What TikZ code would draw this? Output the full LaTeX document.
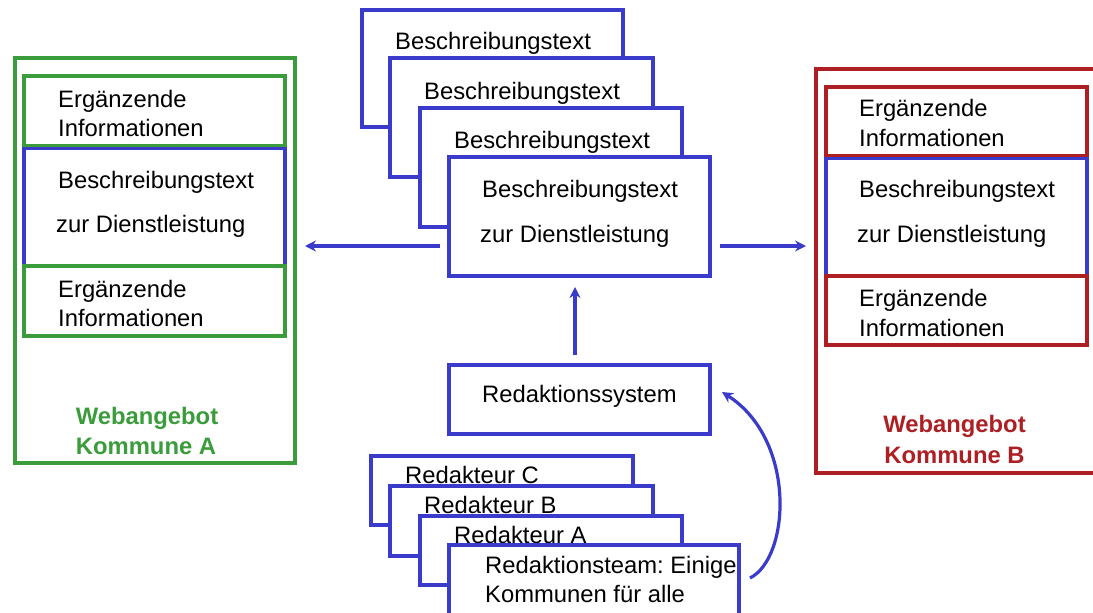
\documentclass[tikz,border=0pt]{standalone}
\usepackage{fontspec}
\setmainfont{Liberation Sans}
\usetikzlibrary{arrows.meta}
\definecolor{cblue}{HTML}{3A3ACB}
\definecolor{cgreen}{HTML}{3A9C3A}
\definecolor{cred}{HTML}{AD1F23}
\tikzset{
  panel/.style={draw=#1,line width=3.5pt,fill=white,inner sep=0pt,outer sep=0pt,anchor=north west},
  txt/.style={anchor=base west,inner sep=0pt,font=\fontsize{23.8}{28}\selectfont\frenchspacing,text=black},
  head/.style={anchor=base,inner sep=0pt,font=\fontsize{23.8}{28}\selectfont\bfseries,text=#1},
  flow/.style={draw=cblue,line width=3.2pt,-{Stealth[length=11pt,width=11pt]}}
}
\newcommand{\bx}[6]{\pgfmathsetmacro{\bw}{#5-#3}\pgfmathsetmacro{\bh}{#6-#4}%
  \node[panel=#2,minimum width=\bw pt,minimum height=\bh pt] (#1) at (#3,#4) {};}
\begin{document}
\begin{tikzpicture}[x=1pt,y=-1pt]
\useasboundingbox (0,0) rectangle (1093,613);
\clip (0,0) rectangle (1093,613);
% left
\bx{wa}{cgreen}{15}{58}{295}{463}
\bx{wam}{cblue}{24}{148}{285}{266}
\bx{wat}{cgreen}{24}{76}{285}{145.7}
\bx{wab}{cgreen}{24}{266}{285}{336}
\node[txt] (t1) at (58,107) {Ergänzende};
\node[txt] (t2) at (58,136) {Informationen};
\node[txt] (t3) at (58,188) {Beschreibungstext};
\node[txt] (t4) at (56,232) {zur Dienstleistung};
\node[txt] (t5) at (58,297) {Ergänzende};
\node[txt] (t6) at (58,326) {Informationen};
\node[head=cgreen] (t7) at (147,424) {Webangebot};
\node[head=cgreen] (t8) at (146,454) {Kommune A};
% right
\bx{wb}{cred}{816}{69}{1110}{473}
\bx{wbm}{cblue}{826}{158}{1087}{276}
\bx{wbt}{cred}{826}{87}{1087}{155.7}
\bx{wbb}{cred}{826}{276}{1087}{345}
\node[txt] (u1) at (859,116) {Ergänzende};
\node[txt] (u2) at (859,146) {Informationen};
\node[txt] (u3) at (859,197) {Beschreibungstext};
\node[txt] (u4) at (857,242) {zur Dienstleistung};
\node[txt] (u5) at (859,306) {Ergänzende};
\node[txt] (u6) at (859,336) {Informationen};
\node[head=cred] (u7) at (954.5,432) {Webangebot};
\node[head=cred] (u8) at (954.5,463) {Kommune B};
% centre stack
\bx{d1}{cblue}{362}{10}{623}{127}
\node[txt] (v1) at (395,49) {Beschreibungstext};
\bx{d2}{cblue}{390}{58}{653}{177}
\node[txt] (v2) at (424,99) {Beschreibungstext};
\bx{d3}{cblue}{420}{108}{682}{227}
\node[txt] (v3) at (454,148) {Beschreibungstext};
\bx{d4}{cblue}{449}{157}{710}{276}
\node[txt] (v4) at (482,197) {Beschreibungstext};
\node[txt] (v5) at (480,242) {zur Dienstleistung};
% editorial system
\bx{rs}{cblue}{449}{365}{710}{434}
\node[txt] (r0) at (482,402) {Redaktionssystem};
% editors
\bx{rc}{cblue}{371}{456}{633}{525}
\node[txt] (r1) at (405,483) {Redakteur C};
\bx{rb}{cblue}{390}{486}{653}{556}
\node[txt] (r2) at (424,513) {Redakteur B};
\bx{ra}{cblue}{420}{516}{682}{585}
\node[txt] (r3) at (454,543) {Redakteur A};
\bx{rt}{cblue}{449}{545}{739}{620}
\node[txt] (r4) at (485,573) {Redaktionsteam: Einige};
\node[txt] (r5) at (485,602) {Kommunen für alle};
% connectors
\coordinate (ly) at (0,246);
\coordinate (ax) at (575,0);
\coordinate (cs) at (750,578);
\coordinate (ce) at (722,392);
\draw[flow,shorten <=9pt,shorten >=10pt] (d4.west |- ly) -- (wa.east |- ly);
\draw[flow,shorten <=10pt,shorten >=10pt] (d4.east |- ly) -- (wb.west |- ly);
\draw[flow,shorten <=10pt,shorten >=11pt] (ax |- rs.north) -- (ax |- d4.south);
\draw[flow] (cs) .. controls (790,558) and (797,440) .. (ce);
\end{tikzpicture}
\end{document}
